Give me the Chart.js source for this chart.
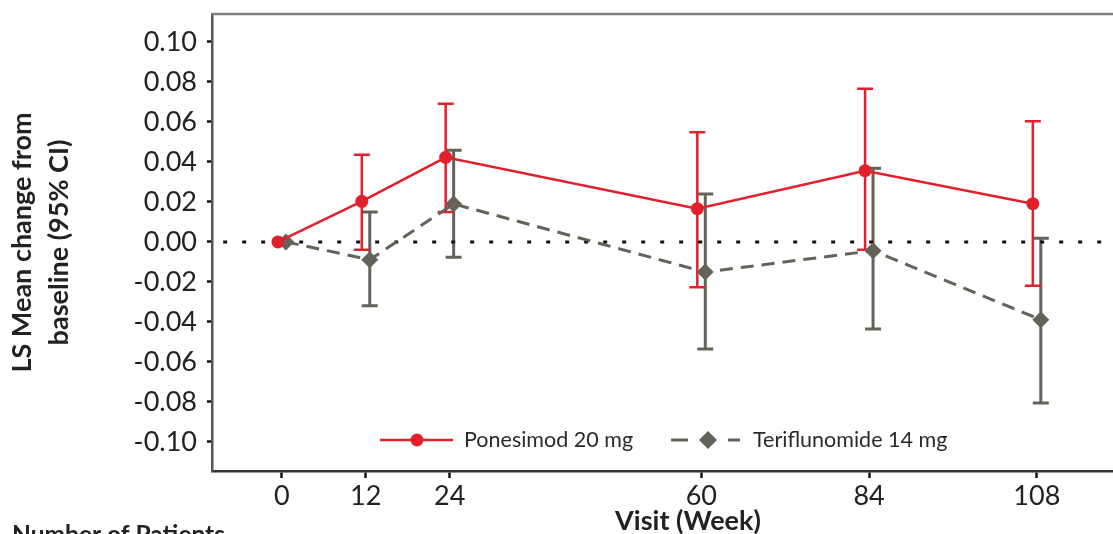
<!DOCTYPE html>
<html><head><meta charset="utf-8">
<script src="https://cdn.jsdelivr.net/npm/chart.js@4.4.1/dist/chart.umd.min.js"></script>
<style>
html,body{margin:0;padding:0;overflow:hidden;background:#fff;width:1113px;height:534px}
#wrap{position:absolute;left:0;top:0;width:1125px;height:534px}
</style>
</head><body>
<div id="wrap"><canvas id="c" width="1125" height="534"></canvas></div>
<script>
// ---- data ----
const weeks = [0, 12, 24, 60, 84, 108];
const xTickValues = [0, 12, 24, 60, 84, 108];
const yTickValues = [-0.10, -0.08, -0.06, -0.04, -0.02, 0.00, 0.02, 0.04, 0.06, 0.08, 0.10];
const ponesimodMean  = [0.000,  0.0203, 0.0423,  0.0166,  0.0356,  0.0191];
const ponesimodLower = [null,  -0.0039, 0.0150, -0.0227, -0.0039, -0.0219];
const ponesimodUpper = [null,   0.0436, 0.0691,  0.0549,  0.0766,  0.0604];
const teriMean  = [0.000, -0.0089,  0.0190, -0.0151, -0.0044, -0.0389];
const teriLower = [null,  -0.0319, -0.0077, -0.0536, -0.0436, -0.0806];
const teriUpper = [null,   0.0150,  0.0458,  0.0239,  0.0368,  0.0018];
const seriesNames = ['Ponesimod 20 mg', 'Teriflunomide 14 mg'];

const RED = '#e2202c';
const GREY = '#646259';
const FONT = 'Lato, "Open Sans", sans-serif';
const dodge = 0.57;

const mk = (means, off) => weeks.map((w, i) => ({x: w + off, y: means[i]}));

const errorBars = {
  id: 'errorBars',
  beforeDatasetsDraw(chart) {
    const {ctx, scales: {x, y}} = chart;
    [1, 0].forEach(di => {
      const ds = chart.data.datasets[di];
      if (!ds.errLow) return;
      ctx.save();
      ctx.strokeStyle = ds.borderColor;
      ctx.lineWidth = ds.errWidth;
      ctx.setLineDash([]);
      ds.data.forEach((p, i) => {
        const lo = ds.errLow[i], hi = ds.errHigh[i];
        if (lo == null || hi == null) return;
        const px = x.getPixelForValue(p.x);
        const py1 = y.getPixelForValue(lo), py2 = y.getPixelForValue(hi);
        const cw = 8;
        ctx.beginPath();
        ctx.moveTo(px, py1); ctx.lineTo(px, py2);
        ctx.moveTo(px - cw, py1); ctx.lineTo(px + cw, py1);
        ctx.moveTo(px - cw, py2); ctx.lineTo(px + cw, py2);
        ctx.stroke();
      });
      ctx.restore();
    });
  }
};

const frameAndText = {
  id: 'frameAndText',
  afterDraw(chart) {
    const {ctx, chartArea: a} = chart;
    ctx.save();
    ctx.strokeStyle = '#808080';
    ctx.lineWidth = 2.5;
    ctx.beginPath();
    ctx.moveTo(a.left - 1, a.top); ctx.lineTo(a.right + 10, a.top);
    ctx.stroke();

    // legend
    const ly = 440;
    ctx.setLineDash([]);
    ctx.strokeStyle = RED; ctx.lineWidth = 2.5;
    ctx.beginPath(); ctx.moveTo(380, ly); ctx.lineTo(453, ly); ctx.stroke();
    ctx.fillStyle = RED;
    ctx.beginPath(); ctx.arc(417, ly, 6.5, 0, Math.PI * 2); ctx.fill();
    ctx.strokeStyle = GREY; ctx.lineWidth = 3;
    ctx.beginPath(); ctx.moveTo(671, ly); ctx.lineTo(688, ly); ctx.moveTo(728, ly); ctx.lineTo(740, ly); ctx.stroke();
    ctx.fillStyle = GREY;
    ctx.beginPath(); ctx.moveTo(708, ly - 9); ctx.lineTo(717, ly); ctx.lineTo(708, ly + 9); ctx.lineTo(699, ly); ctx.closePath(); ctx.fill();
    ctx.fillStyle = '#2a2a2a';
    ctx.font = '21.5px ' + FONT;
    ctx.textBaseline = 'middle';
    ctx.textAlign = 'left';
    ctx.fillText(seriesNames[0], 464, ly);
    ctx.fillText(seriesNames[1], 753, ly);

    // x title and table header
    ctx.font = 'bold 27px ' + FONT;
    ctx.textBaseline = 'alphabetic';
    ctx.textAlign = 'center';
    ctx.fillStyle = '#222';
    ctx.fillText('Visit (Week)', 688, 530);
    ctx.font = 'bold 24.5px ' + FONT;
    ctx.textAlign = 'left';
    ctx.fillText('Number of Patients', 12, 543);
    ctx.restore();
  }
};

new Chart(document.getElementById('c'), {
  type: 'line',
  data: {
    datasets: [
      {
        label: seriesNames[0], data: mk(ponesimodMean, -dodge),
        errLow: ponesimodLower, errHigh: ponesimodUpper, errWidth: 2.5,
        borderColor: RED, backgroundColor: RED, borderWidth: 2.5,
        pointStyle: 'circle', pointRadius: 6.5, pointBorderWidth: 0, pointHoverRadius: 6.5
      },
      {
        label: seriesNames[1], data: mk(teriMean, dodge),
        errLow: teriLower, errHigh: teriUpper, errWidth: 3,
        borderColor: GREY, backgroundColor: GREY, borderWidth: 3, borderDash: [13, 8],
        pointStyle: 'rectRot', pointRadius: 8.5, pointBorderWidth: 0
      },
      {
        label: 'zero', data: [{x: -8.4, y: 0}, {x: 125, y: 0}],
        borderColor: '#111', borderWidth: 3, borderDash: [4, 15], pointRadius: 0
      }
    ]
  },
  options: {
    responsive: false, animation: false, devicePixelRatio: 1,
    layout: {padding: {top: 14, right: 7, left: 0, bottom: 0}},
    plugins: {legend: {display: false}, tooltip: {enabled: false}},
    scales: {
      x: {
        type: 'linear', min: -10, max: 119.4,
        afterBuildTicks: s => { s.ticks = xTickValues.map(v => ({value: v})); },
        afterFit: s => { s.height = 63; s.paddingLeft = 0; s.paddingRight = 0; },
        grid: {drawOnChartArea: false, tickLength: 7, tickWidth: 2.5, tickColor: '#111'},
        border: {display: true, color: '#333', width: 2.5},
        ticks: {font: {family: FONT, size: 27}, color: '#222', padding: 2, maxRotation: 0, autoSkip: false,
                callback: v => String(v)}
      },
      y: {
        type: 'linear', min: -0.1146, max: 0.114,
        afterBuildTicks: s => { s.ticks = yTickValues.map(v => ({value: v})); },
        afterFit: s => { s.width = 212; s.paddingTop = 0; s.paddingBottom = 0; },
        grid: {drawOnChartArea: false, tickLength: 5, tickWidth: 2.5, tickColor: '#111'},
        border: {display: true, color: '#555', width: 2.5},
        ticks: {font: {family: FONT, size: 27}, color: '#222', padding: 10, autoSkip: false,
                callback: v => Number(v).toFixed(2)},
        title: {display: true, text: ['LS Mean change from', 'baseline (95% CI)'],
                font: {family: FONT, size: 27, weight: 'bold', lineHeight: 37 / 27}, color: '#222',
                padding: {top: 4, bottom: 0}}
      }
    }
  },
  plugins: [errorBars, frameAndText]
});
</script>
</body></html>
